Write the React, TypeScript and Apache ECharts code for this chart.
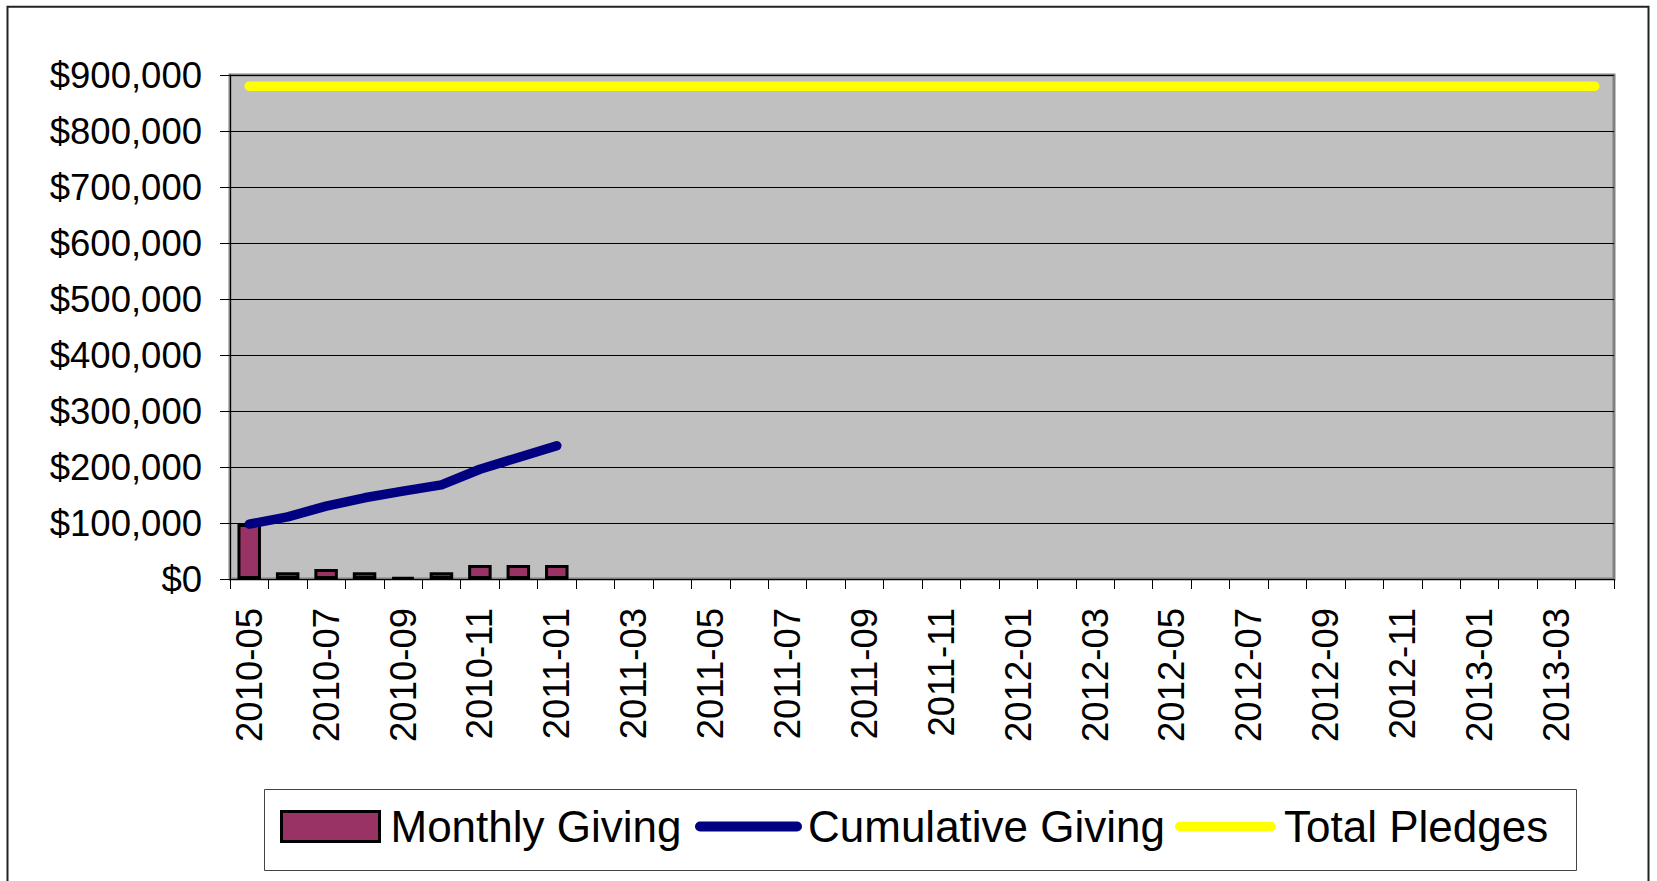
import React, { useEffect, useRef } from 'react';
import * as echarts from 'echarts';

const FONT = '"Liberation Sans", Arial, sans-serif';

const months = [
  '2010-05', '2010-06', '2010-07', '2010-08', '2010-09', '2010-10', '2010-11', '2010-12',
  '2011-01', '2011-02', '2011-03', '2011-04', '2011-05', '2011-06', '2011-07', '2011-08',
  '2011-09', '2011-10', '2011-11', '2011-12', '2012-01', '2012-02', '2012-03', '2012-04',
  '2012-05', '2012-06', '2012-07', '2012-08', '2012-09', '2012-10', '2012-11', '2012-12',
  '2013-01', '2013-02', '2013-03', '2013-04',
];

const monthlyGiving = [98000, 12000, 18000, 12000, 3000, 12000, 25000, 25000, 25000];
const cumulativeGiving = [98000, 111000, 130000, 145000, 157000, 168000, 196000, 217000, 238000];
const totalPledges = [
  880000, 880000, 880000, 880000, 880000, 880000, 880000, 880000, 880000,
  880000, 880000, 880000, 880000, 880000, 880000, 880000, 880000, 880000,
  880000, 880000, 880000, 880000, 880000, 880000, 880000, 880000, 880000,
  880000, 880000, 880000, 880000, 880000, 880000, 880000, 880000, 880000,
];

const Y_MIN = 0;
const Y_MAX = 900000;
const Y_STEP = 100000;

const LINE_ICON = 'path://M5,0 L102,0 A5,5 0 0 1 102,10 L5,10 A5,5 0 0 1 5,0 Z';
const BOX_ICON = 'path://M0,0 L98,0 L98,30 L0,30 Z';

export default function App() {
  const ref = useRef<HTMLDivElement>(null);

  useEffect(() => {
    const chart = echarts.init(ref.current as HTMLDivElement, null, { renderer: 'svg' });
    const legendText = {
      fontSize: 44,
      fontFamily: FONT,
      color: '#000',
      lineHeight: 30,
    };
    chart.setOption({
      animation: false,
      backgroundColor: '#ffffff',
      textStyle: { fontFamily: FONT },
      grid: {
        left: 230,
        top: 75,
        right: 43,
        bottom: 302,
        show: true,
        backgroundColor: '#C0C0C0',
        borderColor: '#808080',
        borderWidth: 3,
        containLabel: false,
        outerBoundsMode: 'none',
      },
      graphic: [
        {
          type: 'rect',
          shape: { x: 7.5, y: 6.8, width: 1641, height: 1000 },
          style: { fill: 'none', stroke: '#222', lineWidth: 2 },
          silent: true,
        },
        {
          type: 'rect',
          shape: { x: 264.5, y: 789.5, width: 1312, height: 81 },
          style: { fill: 'none', stroke: '#444', lineWidth: 1 },
          silent: true,
        },
      ],
      legend: [
        {
          left: 280,
          top: 800,
          padding: 0,
          itemWidth: 98,
          itemHeight: 30,
          textStyle: { ...legendText, padding: [0, 0, 23, 6] },
          data: [
            {
              name: 'Monthly Giving',
              icon: BOX_ICON,
              itemStyle: { color: '#993366', borderColor: '#000', borderWidth: 3 },
            },
          ],
        },
        {
          left: 695,
          top: 800,
          padding: 0,
          itemWidth: 107,
          itemHeight: 30,
          textStyle: { ...legendText, padding: [0, 0, 23, 1] },
          data: [
            {
              name: 'Cumulative Giving',
              icon: LINE_ICON,
              itemStyle: { color: '#000080', borderWidth: 0 },
            },
          ],
        },
        {
          left: 1175,
          top: 800,
          padding: 0,
          itemWidth: 101,
          itemHeight: 30,
          textStyle: { ...legendText, padding: [0, 0, 23, 3] },
          data: [
            {
              name: 'Total Pledges',
              icon: LINE_ICON,
              itemStyle: { color: '#FFFF00', borderWidth: 0 },
            },
          ],
        },
      ],
      xAxis: {
        type: 'category',
        data: months,
        boundaryGap: true,
        axisLine: { show: true, lineStyle: { color: '#000', width: 1 } },
        axisTick: { show: true, interval: 0, length: 10, lineStyle: { color: '#000', width: 1 } },
        axisLabel: {
          interval: 1,
          rotate: 90,
          margin: 29,
          fontSize: 36.5,
          fontFamily: FONT,
          color: '#000',
        },
        splitLine: { show: false },
      },
      yAxis: {
        type: 'value',
        min: Y_MIN,
        max: Y_MAX,
        interval: Y_STEP,
        axisLine: { show: true, lineStyle: { color: '#000', width: 1 } },
        axisTick: { show: true, length: 10, lineStyle: { color: '#000', width: 1 } },
        axisLabel: {
          margin: 28,
          fontSize: 36.5,
          fontFamily: FONT,
          color: '#000',
          formatter: (v: number) => '$' + v.toLocaleString('en-US'),
        },
        splitLine: { show: true, lineStyle: { color: '#000', width: 1 } },
      },
      series: [
        {
          name: 'Monthly Giving',
          type: 'bar',
          data: monthlyGiving,
          barWidth: 23.5,
          itemStyle: { color: '#993366', borderColor: '#000', borderWidth: 3 },
          z: 2,
        },
        {
          name: 'Cumulative Giving',
          type: 'line',
          data: cumulativeGiving,
          showSymbol: false,
          symbol: 'none',
          lineStyle: { color: '#000080', width: 9.5, cap: 'round', join: 'round' },
          itemStyle: { color: '#000080' },
          z: 4,
        },
        {
          name: 'Total Pledges',
          type: 'line',
          data: totalPledges,
          showSymbol: false,
          symbol: 'none',
          lineStyle: { color: '#FFFF00', width: 9.5, cap: 'round', join: 'round' },
          itemStyle: { color: '#FFFF00' },
          z: 3,
        },
      ],
    });
    return () => chart.dispose();
  }, []);

  return (
    <div
      ref={ref}
      style={{ position: 'fixed', left: 0, top: 0, width: 1657, height: 881, background: '#fff' }}
    />
  );
}
